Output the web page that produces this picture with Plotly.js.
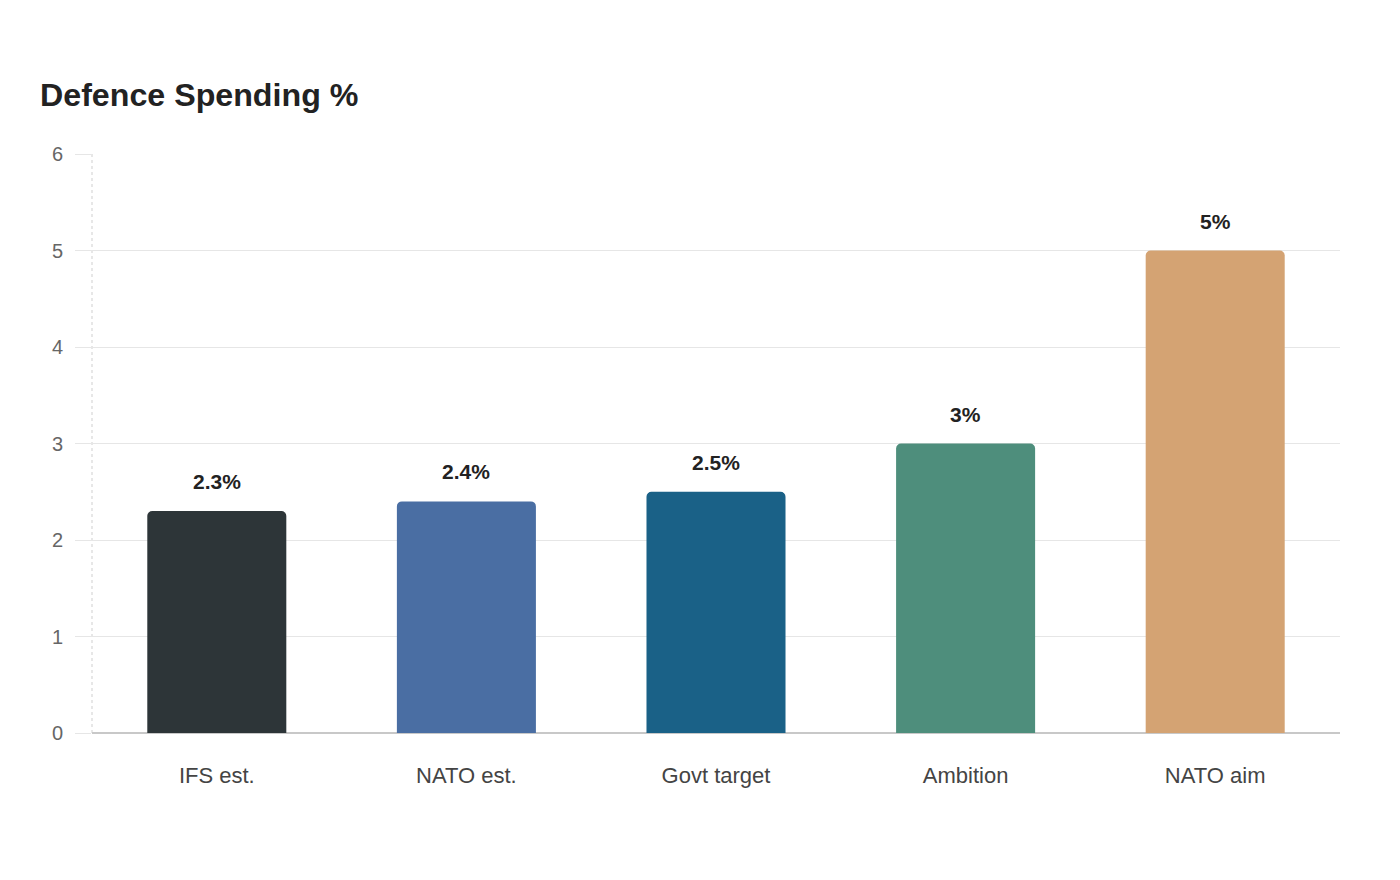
<!DOCTYPE html>
<html>
<head>
<meta charset="utf-8">
<script src="https://cdn.plot.ly/plotly-3.0.1.min.js"></script>
<style>
  html, body { margin: 0; padding: 0; background: #ffffff; }
  #chart { width: 1400px; height: 880px; }
</style>
</head>
<body>
<div id="chart"></div>
<script>
// Defence spending as a share of GDP, by estimate / target
const categories = ['IFS est.', 'NATO est.', 'Govt target', 'Ambition', 'NATO aim'];
const spendingPct = [2.3, 2.4, 2.5, 3, 5];
const barColors = ['#2d3538', '#4a6ea3', '#1a6187', '#4e8e7c', '#d4a373'];
const yTicks = [0, 1, 2, 3, 4, 5, 6];

const FONT = '"Liberation Sans", Arial, Helvetica, sans-serif';

const trace = {
  type: 'bar',
  x: categories,
  y: spendingPct,
  marker: { color: barColors, cornerradius: 5, line: { width: 0 } },
  hoverinfo: 'x+y',
  showlegend: false
};

// Value labels above each bar
const valueLabels = categories.map((c, i) => ({
  x: c,
  y: spendingPct[i],
  xref: 'x',
  yref: 'y',
  text: spendingPct[i] + '%',
  showarrow: false,
  yanchor: 'bottom',
  yshift: 16,
  font: { family: FONT, size: 21, color: '#222222', weight: 'bold' }
}));

const layout = {
  width: 1400,
  height: 880,
  paper_bgcolor: '#ffffff',
  plot_bgcolor: '#ffffff',
  margin: { l: 92, r: 60, t: 154, b: 147 },
  font: { family: FONT },
  title: {
    text: '<b>Defence Spending %</b>',
    font: { family: FONT, size: 32.2, color: '#222222' },
    xref: 'container',
    yref: 'container',
    x: 40 / 1400,
    xanchor: 'left',
    y: 1 - 95 / 880,
    yanchor: 'middle'
  },
  bargap: 0.443,
  xaxis: {
    type: 'category',
    showgrid: false,
    showline: false,
    zeroline: false,
    ticks: '',
    ticklabelstandoff: 27,
    tickfont: { family: FONT, size: 22, color: '#444444' },
    fixedrange: true
  },
  yaxis: {
    range: [0, 6],
    tickvals: yTicks,
    ticktext: yTicks.map(String),
    showgrid: true,
    gridcolor: '#e6e6e6',
    gridwidth: 1,
    zeroline: true,
    zerolinecolor: '#c8c8c8',
    zerolinewidth: 1.5,
    showline: false,
    ticks: 'outside',
    ticklen: 16,
    tickcolor: '#e6e6e6',
    tickwidth: 1,
    ticklabelstandoff: 8,
    tickfont: { family: FONT, size: 20, color: '#666666' },
    fixedrange: true
  },
  shapes: [
    {
      // dotted vertical axis line on the left edge of the plot
      type: 'line',
      xref: 'paper', yref: 'paper',
      x0: 0, x1: 0, y0: 0, y1: 1,
      line: { color: '#cfcfcf', width: 1, dash: 'dot' },
      layer: 'below'
    }
  ],
  annotations: valueLabels
};

Plotly.newPlot('chart', [trace], layout, { displayModeBar: false });
</script>
</body>
</html>
